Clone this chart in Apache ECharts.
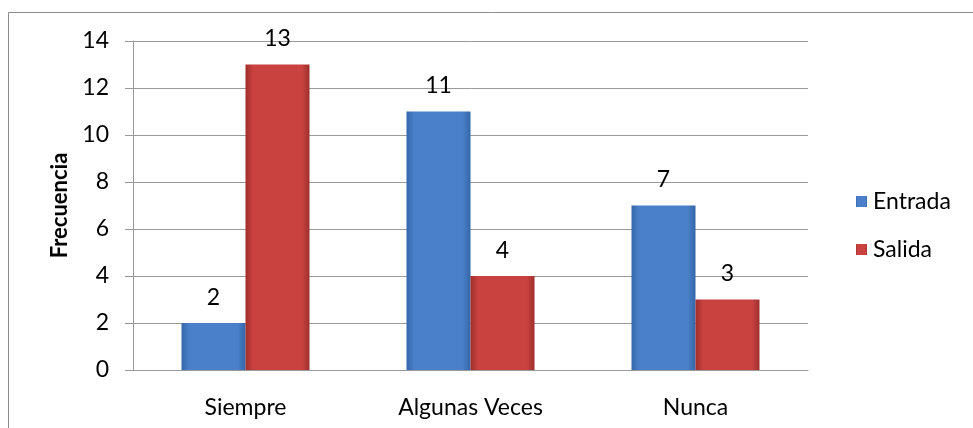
<!DOCTYPE html>
<html>
<head>
<meta charset="utf-8">
<script src="https://cdn.jsdelivr.net/npm/echarts@6/dist/echarts.min.js"></script>
<style>
  html, body { margin: 0; padding: 0; background: #fff; }
  #chart { width: 973px; height: 428px; }
</style>
</head>
<body>
<div id="chart"></div>
<script>
// data
const categories = ["Siempre", "Algunas Veces", "Nunca"];
const entrada = [2, 11, 7];
const salida = [13, 4, 3];
const yTicks = [0, 2, 4, 6, 8, 10, 12, 14];

const FONT = "Lato";
const FS = 23;

// horizontal gradient gives a rough version of the bevelled bars
function bevel(edge, mid) {
    return new echarts.graphic.LinearGradient(0, 0, 1, 0, [
        { offset: 0, color: edge },
        { offset: 0.12, color: mid },
        { offset: 0.88, color: mid },
        { offset: 1, color: edge }
    ]);
}

const chart = echarts.init(document.getElementById("chart"), null, { renderer: "canvas" });

const labelStyle = {
    show: true,
    position: "top",
    distance: 14,
    color: "#000",
    fontFamily: FONT,
    fontSize: FS
};

chart.setOption({
    animation: false,
    graphic: [{
        type: "rect",
        shape: { x: 8.5, y: 12.5, width: 1000, height: 500 },
        style: { fill: "none", stroke: "#8c8c8c", lineWidth: 1 },
        silent: true
    }],
    grid: { left: 133, top: 41, width: 675, height: 329 },
    legend: {
        orient: "vertical",
        left: 851,
        top: 185,
        itemWidth: 11,
        itemHeight: 11,
        itemGap: 25,
        icon: "rect",
        textStyle: { fontFamily: FONT, fontSize: FS, color: "#000", padding: [0, 0, 0, 1] },
        data: ["Entrada", "Salida"]
    },
    xAxis: {
        type: "category",
        data: categories,
        axisLine: { lineStyle: { color: "#999", width: 1 } },
        axisTick: { show: false },
        axisLabel: { color: "#000", fontFamily: FONT, fontSize: FS, margin: 26 }
    },
    yAxis: {
        type: "value",
        min: yTicks[0],
        max: yTicks[yTicks.length - 1],
        interval: 2,
        name: "Frecuencia",
        nameLocation: "middle",
        nameGap: 62,
        nameTextStyle: { color: "#000", fontFamily: FONT, fontSize: 22, fontWeight: "bold" },
        axisLine: { show: true, lineStyle: { color: "#999", width: 1 } },
        axisTick: { show: true, length: 8, lineStyle: { color: "#999" } },
        axisLabel: { color: "#000", fontFamily: FONT, fontSize: FS, margin: 24 },
        splitLine: { lineStyle: { color: "#999", width: 1 } }
    },
    series: [{
        name: "Entrada",
        type: "bar",
        data: entrada,
        barWidth: 64,
        barGap: "0%",
        itemStyle: { color: bevel("#3566a8", "#4a80c9") },
        label: labelStyle
    }, {
        name: "Salida",
        type: "bar",
        data: salida,
        barWidth: 64,
        itemStyle: { color: bevel("#9e2f2c", "#c94240") },
        label: labelStyle
    }]
});
</script>
</body>
</html>
